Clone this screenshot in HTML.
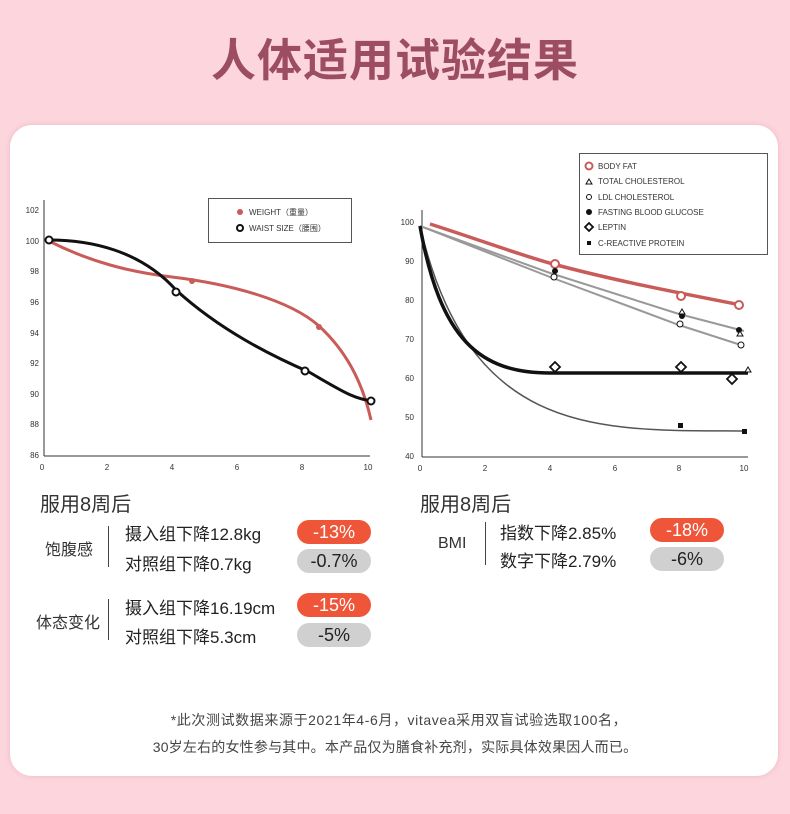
<!DOCTYPE html>
<html><head><meta charset="utf-8"><style>
body{margin:0;width:790px;height:814px;background:#fdd6dd;position:relative;overflow:hidden;font-family:"Liberation Sans","Noto Sans CJK SC",sans-serif;}
.t{position:absolute;white-space:nowrap;}
.card{position:absolute;left:10px;top:125px;width:768px;height:651px;background:#fff;border-radius:22px;box-shadow:0 0 6px rgba(200,120,140,.3);}
.pill{position:absolute;width:74px;height:24px;border-radius:12px;text-align:center;line-height:24px;font-size:18px;}
.r{background:#ef5639;color:#fff}.g{background:#d0d0d0;color:#222}
.vl{position:absolute;width:1px;background:#444}
</style></head><body>
<div class="t" style="left:0;width:790px;text-align:center;top:24px;font-size:45px;color:#9c4d60;font-weight:bold;letter-spacing:1px;font-family:'Noto Sans CJK SC',sans-serif;">人体适用试验结果</div>
<div class="card"></div>
<svg style="position:absolute;left:0;top:0" width="790" height="814" font-family="Liberation Sans, sans-serif">
<g font-size="8" fill="#333" text-anchor="end">
<line x1="44" y1="200" x2="44" y2="456" stroke="#333"/><line x1="44" y1="456" x2="370" y2="456" stroke="#333"/>
<text x="39" y="213">102</text><text x="39" y="244">100</text><text x="39" y="274">98</text><text x="39" y="305">96</text><text x="39" y="336">94</text><text x="39" y="366">92</text><text x="39" y="397">90</text><text x="39" y="427">88</text><text x="39" y="458">86</text>
<g text-anchor="middle"><text x="42" y="470">0</text><text x="107" y="470">2</text><text x="172" y="470">4</text><text x="237" y="470">6</text><text x="302" y="470">8</text><text x="368" y="470">10</text></g>
</g>
<path d="M49,241 C90,262 130,272 172,277 C230,284 290,300 319,326 C345,350 362,380 371,420" fill="none" stroke="#c95b59" stroke-width="3"/>
<circle cx="192" cy="281" r="3" fill="#c95b59"/><circle cx="319" cy="327" r="3" fill="#c95b59"/>
<path d="M49,240 C90,240 140,250 176,290 C220,330 270,355 309,372 C340,390 355,400 374,401" fill="none" stroke="#111" stroke-width="3"/>
<g fill="#fff" stroke="#111" stroke-width="2"><circle cx="49" cy="240" r="3.5"/><circle cx="176" cy="292" r="3.5"/><circle cx="305" cy="371" r="3.5"/><circle cx="371" cy="401" r="3.5"/></g>
<rect x="208.5" y="198.5" width="143" height="44" fill="#fff" stroke="#555"/>
<circle cx="240" cy="212" r="3" fill="#c95b59"/><circle cx="240" cy="228" r="3" fill="#fff" stroke="#111" stroke-width="2"/>
<text x="249" y="215" font-size="8" fill="#333">WEIGHT（重量）</text><text x="249" y="231" font-size="8" fill="#333">WAIST SIZE（腰围）</text>

<g font-size="8" fill="#333" text-anchor="end">
<line x1="422" y1="210" x2="422" y2="457" stroke="#333"/><line x1="422" y1="457" x2="748" y2="457" stroke="#333"/>
<text x="414" y="225">100</text><text x="414" y="264">90</text><text x="414" y="303">80</text><text x="414" y="342">70</text><text x="414" y="381">60</text><text x="414" y="420">50</text><text x="414" y="459">40</text>
<g text-anchor="middle"><text x="420" y="471">0</text><text x="485" y="471">2</text><text x="550" y="471">4</text><text x="615" y="471">6</text><text x="679" y="471">8</text><text x="744" y="471">10</text></g>
</g>
<path d="M420,226 C470,440 600,430 744,431" fill="none" stroke="#555" stroke-width="1.5"/>
<path d="M420,226 L550,273 L679,314 L744,331" fill="none" stroke="#999" stroke-width="2"/>
<path d="M420,226 L550,277 L679,325 L744,346" fill="none" stroke="#999" stroke-width="2"/>
<path d="M420,226 C440,340 480,373 550,373 L748,373" fill="none" stroke="#111" stroke-width="3.5"/>
<path d="M430,224 C480,240 520,255 553,264 C620,282 690,295 741,305" fill="none" stroke="#c95b59" stroke-width="3.5"/>
<g fill="#fff" stroke="#c95b59" stroke-width="2"><circle cx="555" cy="264" r="4"/><circle cx="681" cy="296" r="4"/><circle cx="739" cy="305" r="4"/></g>
<g fill="#111"><circle cx="555" cy="271" r="3"/><circle cx="682" cy="316" r="3"/><circle cx="739" cy="330" r="3"/><rect x="678" y="423" width="5" height="5"/><rect x="742" y="429" width="5" height="5"/></g>
<g fill="#fff" stroke="#111"><circle cx="554" cy="277" r="3"/><circle cx="680" cy="324" r="3"/><circle cx="741" cy="345" r="3"/>
<path d="M682,309 l3,5 h-6z M740,331 l3,5 h-6z M748,367 l3,5 h-6z"/>
<g stroke-width="1.8"><path d="M555,362 l5,5 -5,5 -5,-5z M681,362 l5,5 -5,5 -5,-5z M732,374 l5,5 -5,5 -5,-5z"/></g></g>
<rect x="579.5" y="153.5" width="188" height="101" fill="#fff" stroke="#555"/>
<g font-size="8" fill="#333">
<circle cx="589" cy="166" r="3.5" fill="#fff" stroke="#c95b59" stroke-width="2"/><text x="598" y="169">BODY FAT</text>
<path d="M589,179 l3,5 h-6z" fill="#fff" stroke="#111"/><text x="598" y="184">TOTAL CHOLESTEROL</text>
<circle cx="589" cy="197" r="2.5" fill="#fff" stroke="#111"/><text x="598" y="200">LDL CHOLESTEROL</text>
<circle cx="589" cy="212" r="3" fill="#111"/><text x="598" y="215">FASTING BLOOD GLUCOSE</text>
<path d="M589,223 l4,4 -4,4 -4,-4z" fill="#fff" stroke="#111" stroke-width="1.8"/><text x="598" y="230">LEPTIN</text>
<rect x="587" y="241" width="4" height="4" fill="#111"/><text x="598" y="246">C-REACTIVE PROTEIN</text>
</g>
</svg>

<div class="t" style="left:40px;top:488px;font-size:20px;color:#333">服用8周后</div>
<div class="t" style="left:45px;top:536px;font-size:16px;color:#333">饱腹感</div>
<div class="vl" style="left:108px;top:526px;height:41px"></div>
<div class="t" style="left:125px;top:520px;font-size:17px;color:#222">摄入组下降12.8kg</div>
<div class="t" style="left:125px;top:550px;font-size:17px;color:#222">对照组下降0.7kg</div>
<div class="pill r" style="left:297px;top:520px">-13%</div>
<div class="pill g" style="left:297px;top:549px">-0.7%</div>
<div class="t" style="left:36px;top:609px;font-size:16px;color:#333">体态变化</div>
<div class="vl" style="left:108px;top:599px;height:41px"></div>
<div class="t" style="left:125px;top:594px;font-size:17px;color:#222">摄入组下降16.19cm</div>
<div class="t" style="left:125px;top:623px;font-size:17px;color:#222">对照组下降5.3cm</div>
<div class="pill r" style="left:297px;top:593px">-15%</div>
<div class="pill g" style="left:297px;top:623px">-5%</div>

<div class="t" style="left:420px;top:488px;font-size:20px;color:#333">服用8周后</div>
<div class="t" style="left:438px;top:535px;font-size:16px;color:#333">BMI</div>
<div class="vl" style="left:485px;top:522px;height:43px"></div>
<div class="t" style="left:500px;top:519px;font-size:17px;color:#222">指数下降2.85%</div>
<div class="t" style="left:500px;top:547px;font-size:17px;color:#222">数字下降2.79%</div>
<div class="pill r" style="left:650px;top:518px">-18%</div>
<div class="pill g" style="left:650px;top:547px">-6%</div>

<div class="t" style="left:0;width:798px;text-align:center;top:710px;font-size:14px;letter-spacing:0.6px;color:#444">*此次测试数据来源于2021年4-6月，vitavea采用双盲试验选取100名，</div>
<div class="t" style="left:0;width:790px;text-align:center;top:737px;font-size:14px;letter-spacing:0.2px;color:#444">30岁左右的女性参与其中。本产品仅为膳食补充剂，实际具体效果因人而已。</div>
</body></html>
